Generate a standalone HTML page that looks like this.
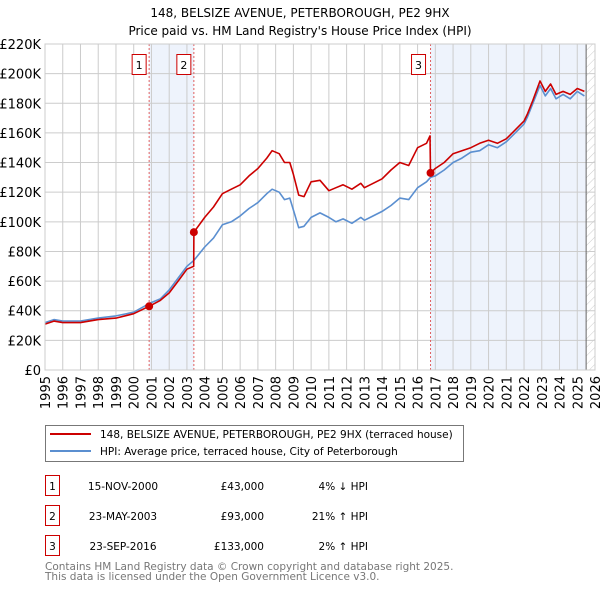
<!DOCTYPE html>
<html><head><meta charset="utf-8"><style>
body{margin:0;background:#fff;font-family:"DejaVu Sans","Liberation Sans",sans-serif;}
svg{display:block}
</style></head><body>
<svg id="c" width="600" height="590" xmlns="http://www.w3.org/2000/svg" font-family="DejaVu Sans, Liberation Sans, sans-serif">
<defs><pattern id="hatch" width="6" height="6" patternUnits="userSpaceOnUse" patternTransform="rotate(45)"><line x1="0" y1="0" x2="0" y2="6" stroke="#ccc" stroke-width="1"/></pattern></defs>
<text x="300" y="17" text-anchor="middle" font-size="12">148, BELSIZE AVENUE, PETERBOROUGH, PE2 9HX</text>
<text x="300" y="35" text-anchor="middle" font-size="12">Price paid vs. HM Land Registry's House Price Index (HPI)</text>
<g id="plot"></g>
<g>
<rect x="45.5" y="425.5" width="418" height="36" fill="#fff" stroke="#777"/>
<line x1="50" y1="434" x2="91" y2="434" stroke="#cc0000" stroke-width="2"/>
<text x="100" y="438" font-size="10.5">148, BELSIZE AVENUE, PETERBOROUGH, PE2 9HX (terraced house)</text>
<line x1="50" y1="451" x2="91" y2="451" stroke="#5b8fd0" stroke-width="2"/>
<text x="100" y="455" font-size="10.5">HPI: Average price, terraced house, City of Peterborough</text>
</g>
<g font-size="10.5">
<rect x="45.5" y="475.5" width="14" height="20" fill="#fff" stroke="#cc0000"/><text x="52.5" y="490" text-anchor="middle">1</text>
<text x="123" y="490" text-anchor="middle">15-NOV-2000</text><text x="264" y="490" text-anchor="end">£43,000</text><text x="368" y="490" text-anchor="end">4% ↓ HPI</text>
<rect x="45.5" y="505.5" width="14" height="20" fill="#fff" stroke="#cc0000"/><text x="52.5" y="520" text-anchor="middle">2</text>
<text x="123" y="520" text-anchor="middle">23-MAY-2003</text><text x="264" y="520" text-anchor="end">£93,000</text><text x="368" y="520" text-anchor="end">21% ↑ HPI</text>
<rect x="45.5" y="535.5" width="14" height="20" fill="#fff" stroke="#cc0000"/><text x="52.5" y="550" text-anchor="middle">3</text>
<text x="123" y="550" text-anchor="middle">23-SEP-2016</text><text x="264" y="550" text-anchor="end">£133,000</text><text x="368" y="550" text-anchor="end">2% ↑ HPI</text>
</g>
<text x="45" y="570" font-size="10.5" fill="#777">Contains HM Land Registry data © Crown copyright and database right 2025.</text>
<text x="45" y="580" font-size="10.5" fill="#777">This data is licensed under the Open Government Licence v3.0.</text>
</svg>
<script>
const hpiDates=[1995,1995.5,1996,1997,1998,1999,2000,2000.9,2001.5,2002,2002.5,2003,2003.4,2004,2004.5,2005,2005.5,2006,2006.5,2007,2007.5,2007.8,2008.2,2008.5,2008.8,2009,2009.3,2009.6,2010,2010.5,2011,2011.4,2011.8,2012.3,2012.8,2013,2013.5,2014,2014.5,2015,2015.5,2016,2016.5,2016.73,2017,2017.5,2018,2018.5,2019,2019.5,2020,2020.5,2021,2021.5,2022,2022.2,2022.5,2022.9,2023.2,2023.5,2023.8,2024.2,2024.6,2025,2025.4];
const hpiValues=[32,34,33,33,35,36.5,39,45,48,54,62,70,74,83,89,98,100,104,109,113,119,122,120,115,116,108,96,97,103,106,103,100,102,99,103,101,104,107,111,116,115,123,127,130,131,135,140,143,147,148,152,150,154,160,166,171,180,192,185,190,183,186,183,188,185];
const priceDates=[1995,1995.5,1996,1997,1998,1999,2000,2000.87,2001.5,2002,2002.5,2003,2003.38,2003.39,2004,2004.5,2005,2005.5,2006,2006.5,2007,2007.5,2007.8,2008.2,2008.5,2008.8,2009,2009.3,2009.6,2010,2010.5,2011,2011.4,2011.8,2012.3,2012.8,2013,2013.5,2014,2014.5,2015,2015.5,2016,2016.5,2016.7,2016.73,2017,2017.5,2018,2018.5,2019,2019.5,2020,2020.5,2021,2021.5,2022,2022.2,2022.5,2022.9,2023.2,2023.5,2023.8,2024.2,2024.6,2025,2025.4];
const priceValues=[31,33,32,32,34,35,38,43,47,52,60,68,70,93,103,110,119,122,125,131,136,143,148,146,140,140,132,118,117,127,128,121,123,125,122,126,123,126,129,135,140,138,150,153,158,133,136,140,146,148,150,153,155,153,156,162,168,173,182,195,188,193,186,188,186,190,188];
const saleDates=[2000.87,2003.39,2016.73];
const saleValues=[43,93,133];
const saleLabels=["1","2","3"];
const yTicks=[0,20,40,60,80,100,120,140,160,180,200,220];
const xTicks=[1995,1996,1997,1998,1999,2000,2001,2002,2003,2004,2005,2006,2007,2008,2009,2010,2011,2012,2013,2014,2015,2016,2017,2018,2019,2020,2021,2022,2023,2024,2025,2026];
const L=45,R=595,T=44,B=370;
const X=d=>L+(d-1995)*(R-L)/31;
const Y=v=>B-v*(B-T)/220;
const NS="http://www.w3.org/2000/svg";
const g=document.getElementById('plot');
function mk(tag,attrs,parent){const e=document.createElementNS(NS,tag);for(const k in attrs)e.setAttribute(k,attrs[k]);(parent||g).appendChild(e);return e;}
let s1=mk('rect',{x:X(saleDates[0]),y:T,width:X(saleDates[1])-X(saleDates[0]),height:B-T,fill:'#eef3fc'});


let s2=mk('rect',{x:X(saleDates[2]),y:T,width:X(2025.5)-X(saleDates[2]),height:B-T,fill:'#eef3fc'});


let h=mk('rect',{x:X(2025.5),y:T,width:R-X(2025.5),height:B-T,fill:'url(#hatch)'});


yTicks.forEach(v=>{
 let l=mk('line',{x1:L,x2:R,y1:Y(v),y2:Y(v),stroke:'#ccc'});
 
 
 let t=mk('text',{x:L-4,y:Y(v)+5,'text-anchor':'end','font-size':'13'});
 t.textContent=v===0?'£0':'£'+v+'K';
 
 
});
xTicks.forEach(d=>{
 let l=mk('line',{x1:X(d),x2:X(d),y1:T,y2:B,stroke:'#ccc'});
 
 
 let t=mk('text',{x:0,y:0,'font-size':'13','text-anchor':'end',transform:`translate(${X(d)+5},${B+6}) rotate(-90)`});
 t.textContent=d;
 
 
});
let hl=mk('line',{x1:X(2025.5),x2:X(2025.5),y1:T,y2:B,stroke:'#666'});


saleDates.forEach((d,i)=>{
 let l=mk('line',{x1:X(d),x2:X(d),y1:T,y2:B,stroke:'#e06060','stroke-dasharray':'2,2'});
 
 
});
function path(ds,vs,color,name){
 let p=mk('path',{d:ds.map((d,i)=>(i?'L':'M')+X(d).toFixed(1)+','+Y(vs[i]).toFixed(1)).join(''),fill:'none',stroke:color,'stroke-width':'1.6','stroke-linejoin':'round'});
 
 
}
path(hpiDates,hpiValues,'#5b8fd0','hpi-line');
path(priceDates,priceValues,'#cc0000','price-paid-line');
saleDates.forEach((d,i)=>{
 let c=mk('circle',{cx:X(d),cy:Y(saleValues[i]),r:4,fill:'#cc0000'});
 
 
 let bx=X(d)-(i===2?12:10);
 let r=mk('rect',{x:bx-7,y:54.5,width:14,height:20,fill:'#fff',stroke:'#cc0000'});
 
 
 let t=mk('text',{x:bx,y:69,'text-anchor':'middle','font-size':'11'});
 t.textContent=saleLabels[i];
 
 
});
let f=mk('rect',{x:L,y:T,width:R-L,height:B-T,fill:'none',stroke:'#ccc'});


</script>
</body></html>
